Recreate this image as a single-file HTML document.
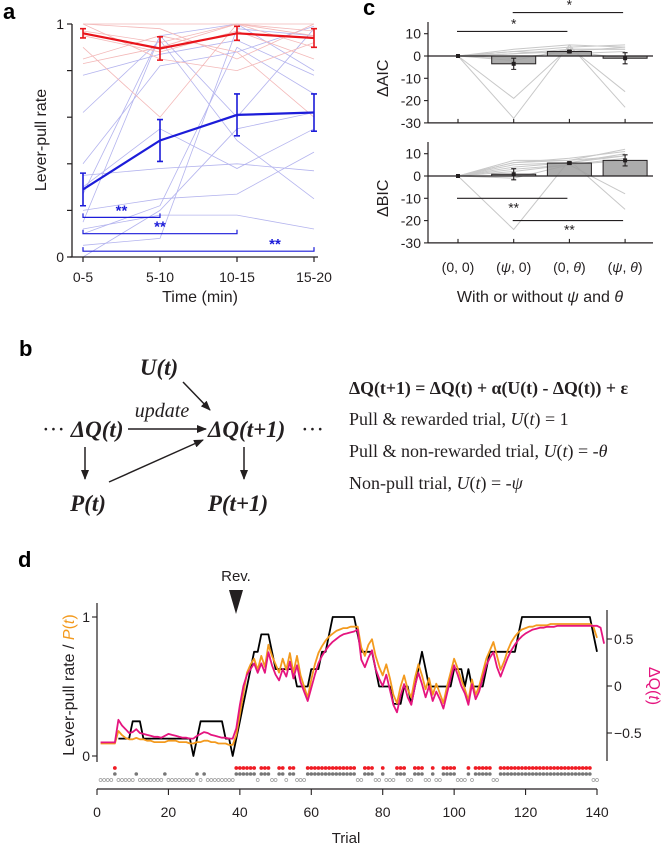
<!DOCTYPE html>
<html><head><meta charset="utf-8">
<style>
html,body{margin:0;padding:0;background:#fff;}
svg{display:block;font-family:"Liberation Sans",sans-serif;}
.serif{font-family:"Liberation Serif",serif;}
</style></head>
<body>
<svg id="fig" xmlns="http://www.w3.org/2000/svg" width="664" height="847" viewBox="0 0 664 847">
<defs>
<marker id="arr" markerWidth="10" markerHeight="8" refX="9" refY="4" orient="auto" markerUnits="userSpaceOnUse">
<path d="M0,0 L10,4 L0,8 Z" fill="#231f20"/>
</marker>
</defs>
<text x="3" y="19" font-size="22" font-weight="bold">a</text>
<text x="363" y="15" font-size="22" font-weight="bold">c</text>
<text x="19" y="356" font-size="22" font-weight="bold">b</text>
<text x="18" y="567" font-size="22" font-weight="bold">d</text>

<g id="pa"></g>
<g id="pc"></g>

<g id="pb" class="serif" fill="#231f20">
<text x="159" y="375" font-size="23" font-weight="bold" font-style="italic" text-anchor="middle">U(<tspan>t</tspan>)</text>
<text x="42" y="437" font-size="23">··· <tspan font-style="italic" font-weight="bold">ΔQ(t)</tspan></text>
<text x="162" y="417" font-size="20" font-style="italic" text-anchor="middle">update</text>
<text x="208" y="437" font-size="23" font-weight="bold" font-style="italic">ΔQ(t+1)</text>
<text x="301" y="437" font-size="23">···</text>
<text x="88" y="511" font-size="23" font-weight="bold" font-style="italic" text-anchor="middle">P(t)</text>
<text x="238" y="511" font-size="23" font-weight="bold" font-style="italic" text-anchor="middle">P(t+1)</text>
<line x1="128" y1="429" x2="206" y2="429" stroke="#231f20" stroke-width="1.5" marker-end="url(#arr)"/>
<line x1="183" y1="382" x2="210" y2="410" stroke="#231f20" stroke-width="1.5" marker-end="url(#arr)"/>
<line x1="85" y1="447" x2="85" y2="479" stroke="#231f20" stroke-width="1.5" marker-end="url(#arr)"/>
<line x1="109" y1="482" x2="203" y2="440" stroke="#231f20" stroke-width="1.5" marker-end="url(#arr)"/>
<line x1="244" y1="447" x2="244" y2="479" stroke="#231f20" stroke-width="1.5" marker-end="url(#arr)"/>
<text x="349" y="394" font-size="17.8" font-weight="bold">ΔQ(t+1) = ΔQ(t) + α(U(t) - ΔQ(t)) + ε</text>
<text x="349" y="425" font-size="18">Pull &amp; rewarded trial, <tspan font-style="italic">U</tspan>(<tspan font-style="italic">t</tspan>)  = 1</text>
<text x="349" y="457" font-size="18">Pull &amp; non-rewarded trial, <tspan font-style="italic">U</tspan>(<tspan font-style="italic">t</tspan>) = -<tspan font-style="italic">θ</tspan></text>
<text x="349" y="489" font-size="18">Non-pull trial, <tspan font-style="italic">U</tspan>(<tspan font-style="italic">t</tspan>) = -<tspan font-style="italic">ψ</tspan></text>
</g>

<g id="pd"></g>

<script>
var aCategories = ["0-5","5-10","10-15","15-20"];
var aRedMean = [0.96, 0.895, 0.96, 0.94];
var aRedErr = [0.02, 0.05, 0.03, 0.04];
var aBlueMean = [0.29, 0.50, 0.61, 0.62];
var aBlueErr = [0.07, 0.09, 0.09, 0.08];
var aRedIndiv = [[1,1,1,1],[0.83,0.90,1,0.95],[0.90,0.60,1,0.90],[1,0.85,0.80,0.92],[0.85,0.95,0.88,0.60],[1,0.98,0.85,1],[0.95,0.88,0.97,0.85],[0.97,0.92,1,0.97]];
var aBlueIndiv = [[0.05,0.08,0.98,0.95],[0.15,0.95,1,0.80],[0.62,0.93,0.50,0.25],[0.27,0.95,0.60,0.98],[0.20,0.25,0.27,0.45],[0.30,0.55,0.38,0.55],[0.10,0.22,0.90,0.70],[0.78,0.87,0.93,0.78],[0.35,0.38,0.40,0.37],[0.12,0.18,0.18,0.12],[0.40,0.82,0.88,0.99],[0.0,0.20,0.55,0.62]];
var aYTicks = [0,0.2,0.4,0.6,0.8,1];
var aYTickLabels = ["0","","","","","1"];
var aSig = [[0,1,0.17],[0,2,0.10],[0,3,0.025]];

var cCategories = ["(0, 0)","(ψ, 0)","(0, θ)","(ψ, θ)"];
var cAicMean = [0, -3.5, 2, -1];
var cAicErr = [0, 2.5, 0.5, 2.5];
var cBicMean = [0, 0.8, 5.8, 7];
var cBicErr = [0, 2.5, 0.5, 2.5];
var cAicIndiv = [[0,3,5,4],[0,2,4,5],[0,1,3,3],[0,-1,2,4],[0,-19,4,-16],[0,-28,5,-23],[0,2,1,2],[0,-2,3,3],[0,1,2,-1]];
var cBicIndiv = [[0,7,7,12],[0,6,8,11],[0,5,6,10],[0,3,5,8],[0,-1,5,-8],[0,-24,7,-15],[0,4,6,9],[0,2,5,7],[0,6,7,9]];
var cYTicks = [10,0,-10,-20,-30];
var cAicSig = [[0,2,11,"*"],[1,3,19.5,"*"]];
var cBicSig = [[0,2,-10,"**"],[1,3,-20,"**"]];

var dXTicks = [0,20,40,60,80,100,120,140];
var dLeftTicks = [0,1];
var dRightTicks = [0.5,0,-0.5];
var dRightLabels = ["0.5","0","\u22120.5"];
var dBlackStart = 6;
var dBlack = [0.125,0.125,0.125,0.125,0.25,0.25,0.25,0.125,0.125,0.125,0.125,0.125,0.125,0.125,0.125,0.125,0.125,0.125,0.125,0.125,0.125,0,0.125,0.25,0.25,0.25,0.25,0.25,0.25,0.25,0.125,0.125,0,0.125,0.25,0.375,0.5,0.625,0.75,0.75,0.875,0.875,0.875,0.75,0.625,0.625,0.625,0.625,0.625,0.625,0.5,0.5,0.5,0.5,0.625,0.625,0.625,0.75,0.75,0.875,1,1,1,1,1,1,1,0.875,0.75,0.75,0.75,0.75,0.625,0.5,0.5,0.5,0.5,0.375,0.375,0.375,0.5,0.5,0.375,0.5,0.625,0.75,0.625,0.5,0.5,0.5,0.5,0.5,0.5,0.5,0.625,0.625,0.625,0.5,0.625,0.5,0.5,0.5,0.5,0.625,0.75,0.75,0.75,0.75,0.75,0.75,0.75,0.75,0.875,1,1,1,1,1,1,1,1,1,1,1,1,1,1,1,1,1,1,1,1,0.875,0.75];
var dP = [0.09,0.09,0.09,0.09,0.09,0.18,0.15,0.13,0.12,0.12,0.13,0.12,0.12,0.11,0.11,0.10,0.10,0.10,0.10,0.11,0.11,0.11,0.10,0.10,0.10,0.09,0.09,0.10,0.10,0.11,0.11,0.10,0.10,0.09,0.09,0.09,0.08,0.08,0.15,0.30,0.45,0.60,0.66,0.70,0.62,0.72,0.64,0.80,0.72,0.66,0.60,0.70,0.62,0.74,0.60,0.72,0.58,0.50,0.42,0.55,0.66,0.74,0.79,0.83,0.86,0.88,0.90,0.91,0.92,0.92,0.93,0.93,0.93,0.78,0.72,0.80,0.84,0.72,0.64,0.58,0.66,0.56,0.44,0.38,0.50,0.58,0.48,0.42,0.56,0.66,0.58,0.48,0.56,0.44,0.52,0.45,0.38,0.50,0.60,0.70,0.63,0.55,0.48,0.40,0.55,0.44,0.50,0.60,0.70,0.76,0.82,0.72,0.62,0.68,0.76,0.82,0.86,0.89,0.91,0.92,0.93,0.93,0.94,0.94,0.94,0.94,0.95,0.95,0.95,0.95,0.95,0.95,0.95,0.95,0.95,0.95,0.95,0.95,0.93,0.85];
var dQ = [-0.60,-0.60,-0.60,-0.60,-0.60,-0.36,-0.42,-0.46,-0.50,-0.49,-0.46,-0.50,-0.51,-0.52,-0.53,-0.54,-0.54,-0.55,-0.53,-0.51,-0.52,-0.53,-0.54,-0.55,-0.55,-0.56,-0.56,-0.53,-0.51,-0.49,-0.50,-0.52,-0.53,-0.54,-0.55,-0.55,-0.56,-0.56,-0.45,-0.20,0.00,0.12,0.18,0.24,0.14,0.24,0.14,0.36,0.22,0.12,0.06,0.18,0.10,0.26,0.08,0.22,0.04,-0.06,-0.16,-0.02,0.12,0.24,0.32,0.38,0.43,0.47,0.50,0.53,0.55,0.56,0.57,0.58,0.60,0.28,0.20,0.30,0.38,0.18,0.08,0.00,0.12,-0.04,-0.20,-0.28,-0.10,0.02,-0.12,-0.20,0.00,0.14,0.02,-0.12,0.00,-0.16,-0.06,-0.14,-0.24,-0.08,0.08,0.22,0.12,0.00,-0.08,-0.20,0.02,-0.14,-0.06,0.08,0.22,0.30,0.36,0.20,0.10,0.20,0.30,0.38,0.44,0.49,0.53,0.56,0.58,0.60,0.61,0.62,0.62,0.63,0.63,0.63,0.64,0.64,0.64,0.64,0.64,0.64,0.64,0.64,0.64,0.64,0.64,0.64,0.62,0.45];
var dRewarded = [5,39,40,41,42,43,44,46,47,48,51,52,54,55,59,60,61,62,63,64,65,66,67,68,69,70,71,72,75,76,77,80,84,85,86,89,90,91,94,97,98,99,100,104,106,107,108,109,110,113,114,115,116,117,118,119,120,121,122,123,124,125,126,127,128,129,130,131,132,133,134,135,136,137,138];
var dUnrewardedPull = [11,19,28,30];
var dNumTrials = 140;

var NS = "http://www.w3.org/2000/svg";
function mk(parent, tag, attrs, txt){
  var e = document.createElementNS(NS, tag);
  for (var k in attrs) e.setAttribute(k, attrs[k]);
  if (txt !== undefined) e.textContent = txt;
  parent.appendChild(e);
  return e;
}
function pts(arr){ return arr.map(function(p){return p[0].toFixed(1)+","+p[1].toFixed(1);}).join(" "); }

(function(){
  var g = document.getElementById("pa");
  var xA = function(i){ return 83 + i*77; };
  var yA = function(v){ return 257 - v*233; };
  aBlueIndiv.forEach(function(s){
    var l = mk(g,"polyline",{points:pts(s.map(function(v,i){return [xA(i),yA(v)];})),fill:"none",stroke:"#b4b4ee",'stroke-width':0.8});
    
    
  });
  aRedIndiv.forEach(function(s){
    var l = mk(g,"polyline",{points:pts(s.map(function(v,i){return [xA(i),yA(v)];})),fill:"none",stroke:"#f3b8b8",'stroke-width':0.8});
    
    
  });
  var ax = mk(g,"line",{x1:72,y1:24,x2:72,y2:257,stroke:"#231f20",'stroke-width':1.3});
  
  
  var xax = mk(g,"line",{x1:70,y1:257,x2:318,y2:257,stroke:"#231f20",'stroke-width':1.3});
  
  
  aYTicks.forEach(function(v,i){
    var t = mk(g,"line",{x1:67,y1:yA(v),x2:72,y2:yA(v),stroke:"#231f20",'stroke-width':1.2});
    
    
    if (aYTickLabels[i]) {
      var tl = mk(g,"text",{x:64,y:yA(v)+5,'font-size':14,'text-anchor':"end",fill:"#231f20"},aYTickLabels[i]);
      
      
    }
  });
  aCategories.forEach(function(c,i){
    var t = mk(g,"line",{x1:xA(i),y1:257,x2:xA(i),y2:262,stroke:"#231f20",'stroke-width':1.2});
    
    
    var tl = mk(g,"text",{x:xA(i),y:282,'font-size':14,'text-anchor':"middle",fill:"#231f20"},c);
    
    
  });
  var yt = mk(g,"text",{x:0,y:0,'font-size':16,'text-anchor':"middle",fill:"#231f20",transform:"translate(46,140) rotate(-90)"},"Lever-pull rate");
  
  
  var xt = mk(g,"text",{x:200,y:302,'font-size':16,'text-anchor':"middle",fill:"#231f20"},"Time (min)");
  
  
  function series(mean, err, col, name){
    var l = mk(g,"polyline",{points:pts(mean.map(function(v,i){return [xA(i),yA(v)];})),fill:"none",stroke:col,'stroke-width':2.2});
    
    
    mean.forEach(function(v,i){
      var p = "M"+xA(i)+","+yA(v-err[i])+"V"+yA(v+err[i])+"M"+(xA(i)-3)+","+yA(v-err[i])+"h6M"+(xA(i)-3)+","+yA(v+err[i])+"h6";
      var e = mk(g,"path",{d:p,stroke:col,'stroke-width':1.6,fill:"none"});
      
      
    });
  }
  series(aRedMean,aRedErr,"#e8141b","red");
  series(aBlueMean,aBlueErr,"#1c1cd9","blue");
  aSig.forEach(function(s){
    var y = yA(s[2]);
    var b = mk(g,"path",{d:"M"+xA(s[0])+","+(y-4)+"V"+y+"H"+xA(s[1])+"V"+(y-4),stroke:"#1c1cd9",'stroke-width':1.2,fill:"none"});
    
    
    var sx = s[1]===3 ? 275 : (xA(s[0])+xA(s[1]))/2;
    var st = mk(g,"text",{x:sx,y:y-2,'font-size':15,'font-weight':"bold",'text-anchor':"middle",fill:"#1c1cd9"},"**");
    
    
  });
})();

(function(){
  var g = document.getElementById("pc");
  var xC = function(i){ return 458 + i*55.7; };
  function sub(y0, top, mean, err, indiv, sig, title, nm){
    var yC = function(v){ return y0 - v*2.23; };
    indiv.forEach(function(s){
      var l = mk(g,"polyline",{points:pts(s.map(function(v,i){return [xC(i),yC(v)];})),fill:"none",stroke:"#c8c8c8",'stroke-width':1});
      
      
    });
    mean.forEach(function(v,i){
      if (i===0) return;
      var b = mk(g,"rect",{x:xC(i)-22,y:Math.min(yC(v),yC(0)),width:44,height:Math.max(Math.abs(yC(v)-yC(0)),1),fill:"#9d9d9d",'fill-opacity':0.85,stroke:"#231f20",'stroke-width':1});
      
      
    });
    var zl = mk(g,"line",{x1:428,y1:yC(0),x2:653,y2:yC(0),stroke:"#231f20",'stroke-width':1.2});
    
    
    mean.forEach(function(v,i){
      if (err[i]>0){
        var p="M"+xC(i)+","+yC(v-err[i])+"V"+yC(v+err[i])+"M"+(xC(i)-2.5)+","+yC(v-err[i])+"h5M"+(xC(i)-2.5)+","+yC(v+err[i])+"h5";
        var e = mk(g,"path",{d:p,stroke:"#231f20",'stroke-width':1.1,fill:"none"});
        
        
      }
      var d = mk(g,"rect",{x:xC(i)-2,y:yC(v)-2,width:4,height:4,fill:"#231f20"});
      
      
    });
    var ya = mk(g,"line",{x1:428,y1:top,x2:428,y2:yC(-30),stroke:"#231f20",'stroke-width':1.2});
    
    
    var xa = mk(g,"line",{x1:428,y1:yC(-30),x2:653,y2:yC(-30),stroke:"#231f20",'stroke-width':1.2});
    
    
    cYTicks.forEach(function(v){
      var t = mk(g,"line",{x1:424,y1:yC(v),x2:428,y2:yC(v),stroke:"#231f20",'stroke-width':1.1});
      
      
      var tl = mk(g,"text",{x:421,y:yC(v)+5,'font-size':14,'text-anchor':"end",fill:"#231f20"},String(v));
      
      
    });
    cCategories.forEach(function(c,i){
      var t = mk(g,"line",{x1:xC(i),y1:yC(-30),x2:xC(i),y2:yC(-30)-4,stroke:"#231f20",'stroke-width':1.1});
      
      
    });
    var tt = mk(g,"text",{x:0,y:0,'font-size':16,'text-anchor':"middle",fill:"#231f20",transform:"translate(388,"+yC(-10)+") rotate(-90)"},title);
    
    
    sig.forEach(function(s){
      var y = yC(s[2]);
      var l = mk(g,"line",{x1:xC(s[0])-1,y1:y,x2:xC(s[1])-2,y2:y,stroke:"#231f20",'stroke-width':1.1});
      
      
      var ty = s[3]==="*" ? y-3 : y+14;
      var st = mk(g,"text",{x:(xC(s[0])+xC(s[1]))/2,y:ty,'font-size':14,'text-anchor':"middle",fill:"#231f20"},s[3]);
      
      
    });
  }
  sub(56, 22, cAicMean, cAicErr, cAicIndiv, cAicSig, "ΔAIC", "aic");
  sub(176, 142, cBicMean, cBicErr, cBicIndiv, cBicSig, "ΔBIC", "bic");
  cCategories.forEach(function(c,i){
    var tl = mk(g,"text",{x:xC(i),y:272,'font-size':14,'text-anchor':"middle",fill:"#231f20"});
    
    
    var parts = c.split(/([ψθ])/);
    parts.forEach(function(p){
      var ts = mk(tl,"tspan",{},p);
      if (p==="ψ"||p==="θ") ts.setAttribute('font-style','italic');
    });
  });
  var xt = mk(g,"text",{x:540,y:302,'font-size':16,'text-anchor':"middle",fill:"#231f20"});
  
  
  mk(xt,"tspan",{},"With or without ");
  mk(xt,"tspan",{'font-style':"italic"},"ψ");
  mk(xt,"tspan",{}," and ");
  mk(xt,"tspan",{'font-style':"italic"},"θ");
})();

(function(){
  var g = document.getElementById("pd");
  var xD = function(t){ return 97 + t*500/140; };
  var yL = function(v){ return 756 - v*139; };
  var yR = function(q){ return 686 - q*94; };
  var rv = mk(g,"text",{x:236,y:581,'font-size':15,'text-anchor':"middle",fill:"#231f20"},"Rev.");
  
  
  var tri = mk(g,"path",{d:"M229,590 L243,590 L236,614 Z",fill:"#231f20"});
  
  
  var la = mk(g,"line",{x1:97,y1:603,x2:97,y2:762,stroke:"#231f20",'stroke-width':1.2});
  
  
  dLeftTicks.forEach(function(v){
    var t = mk(g,"line",{x1:92,y1:yL(v),x2:97,y2:yL(v),stroke:"#231f20",'stroke-width':1.1});
    
    
    var tl = mk(g,"text",{x:90,y:yL(v)+5,'font-size':14,'text-anchor':"end",fill:"#231f20"},String(v));
    
    
  });
  var ra = mk(g,"line",{x1:607,y1:610,x2:607,y2:761,stroke:"#231f20",'stroke-width':1.2});
  
  
  dRightTicks.forEach(function(v,i){
    var t = mk(g,"line",{x1:607,y1:yR(v),x2:612,y2:yR(v),stroke:"#231f20",'stroke-width':1.1});
    
    
    var tl = mk(g,"text",{x:614,y:yR(v)+5,'font-size':14,fill:"#231f20"},dRightLabels[i]);
    
    
  });
  var xa = mk(g,"line",{x1:97,y1:789,x2:597,y2:789,stroke:"#231f20",'stroke-width':1.2});
  
  
  dXTicks.forEach(function(v){
    var t = mk(g,"line",{x1:xD(v),y1:789,x2:xD(v),y2:795,stroke:"#231f20",'stroke-width':1.1});
    
    
    var tl = mk(g,"text",{x:xD(v),y:817,'font-size':14,'text-anchor':"middle",fill:"#231f20"},String(v));
    
    
  });
  var xt = mk(g,"text",{x:346,y:843,'font-size':15,'text-anchor':"middle",fill:"#231f20"},"Trial");
  
  
  var lt = mk(g,"text",{x:0,y:0,'font-size':16,'text-anchor':"middle",fill:"#231f20",transform:"translate(74,685) rotate(-90)"});
  
  
  mk(lt,"tspan",{},"Lever-pull rate / ");
  mk(lt,"tspan",{fill:"#f39a1e",'font-style':"italic"},"P");
  mk(lt,"tspan",{fill:"#f39a1e"},"(");
  mk(lt,"tspan",{fill:"#f39a1e",'font-style':"italic"},"t");
  mk(lt,"tspan",{fill:"#f39a1e"},")");
  var rt = mk(g,"text",{x:0,y:0,'font-size':16,'text-anchor':"middle",fill:"#e5157f",transform:"translate(649,686) rotate(90)"});
  
  
  mk(rt,"tspan",{},"ΔQ(");
  mk(rt,"tspan",{'font-style':"italic"},"t");
  mk(rt,"tspan",{},")");
  var bp = [];
  dBlack.forEach(function(v,i){ bp.push([xD(dBlackStart+i),yL(v)]); });
  var bl = mk(g,"polyline",{points:pts(bp),fill:"none",stroke:"#000",'stroke-width':1.8,'stroke-linejoin':"round"});
  
  
  var op = dP.map(function(v,i){ return [xD(i+1),yL(v)]; });
  var ol = mk(g,"polyline",{points:pts(op),fill:"none",stroke:"#f39a1e",'stroke-width':1.8,'stroke-linejoin':"round"});
  
  
  var qp = dQ.map(function(v,i){ return [xD(i+1),yR(v)]; });
  var ql = mk(g,"polyline",{points:pts(qp),fill:"none",stroke:"#e5157f",'stroke-width':1.8,'stroke-linejoin':"round"});
  
  
  for (var t=1; t<=dNumTrials; t++){
    var rew = dRewarded.indexOf(t) >= 0;
    var pull = rew || dUnrewardedPull.indexOf(t) >= 0;
    if (rew){
      var r = mk(g,"circle",{cx:xD(t),cy:768,r:1.9,fill:"#f01c24"});
      
      
    }
    if (pull){
      var p = mk(g,"circle",{cx:xD(t),cy:774,r:1.8,fill:"#777"});
      
      
    } else {
      var n = mk(g,"circle",{cx:xD(t),cy:780,r:1.5,fill:"none",stroke:"#999",'stroke-width':0.7});
      
      
    }
  }
})();
</script>
</svg>
</body></html>
